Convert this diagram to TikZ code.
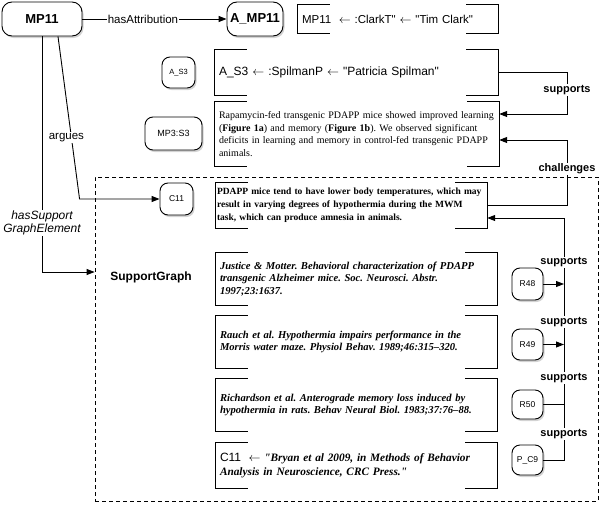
\documentclass[tikz,border=0pt]{standalone}
\usepackage{fontspec}
\setmainfont{Liberation Serif}[Ligatures=TeXOff]
\setsansfont{Liberation Sans}[Ligatures=TeXOff]
\usetikzlibrary{arrows.meta,shadows}
\frenchspacing
\newcommand{\qq}{\symbol{34}}
\newcommand{\from}{\ensuremath{\leftarrow}}

\tikzset{
  tag/.style={draw, line width=0.9pt, rounded corners=8pt, fill=white,
    drop shadow={shadow xshift=1.5pt, shadow yshift=-2pt, opacity=0.35},
    inner sep=0pt, font=\sffamily\fontsize{8.5}{10}\selectfont},
  quote/.style={inner xsep=4pt, inner ysep=0pt, align=left,
    font=\fontsize{10}{12.7}\selectfont},
  bracket/.style={line width=1.1pt},
  link/.style={-{Triangle[length=8pt,width=6pt]}, line width=0.9pt},
  lbl/.style={fill=white, inner sep=1pt, font=\sffamily\fontsize{11.5}{13.5}\selectfont},
  rel/.style={fill=white, inner sep=1pt, font=\sffamily\bfseries\fontsize{11}{13}\selectfont},
}

\begin{document}
\begin{tikzpicture}[x=1pt,y=-1pt]
  \useasboundingbox (0,0) rectangle (600,506);
  \coordinate (lane) at (567,0);
  \coordinate (refs) at (564,0);

  % support graph
  \node[draw, dash pattern=on 4pt off 3pt, line width=0.8pt,
    minimum width=503pt, minimum height=324pt] (sg) at (346.5,339) {};
  \node[font=\sffamily\bfseries\fontsize{12}{14}\selectfont] (sglabel) at (151,277) {SupportGraph};

  % resources
  \node[tag, minimum width=80pt, minimum height=34pt, rounded corners=10pt,
    font=\sffamily\bfseries\fontsize{13}{15}\selectfont] (mp11) at (42,19) {MP11};
  \node[tag, minimum width=56pt, minimum height=34pt, rounded corners=10pt,
    font=\sffamily\bfseries\fontsize{13}{15}\selectfont] (amp11) at (255,19) {A\_MP11};
  \node[tag, minimum width=33pt, minimum height=31pt,
    font=\sffamily\fontsize{7.5}{9}\selectfont] (as3) at (178.5,72.5) {A\_S3};
  \node[tag, minimum width=57pt, minimum height=33pt,
    font=\sffamily\fontsize{9}{11}\selectfont] (mp3s3) at (173.5,133.5) {MP3:S3};
  \node[tag, minimum width=33pt, minimum height=32pt] (c11) at (176.5,199) {C11};
  \node[tag, minimum width=31pt, minimum height=32pt] (r48) at (527.5,284) {R48};
  \node[tag, minimum width=31pt, minimum height=31pt] (r49) at (527.5,344.5) {R49};
  \node[tag, minimum width=31pt, minimum height=29pt] (r50) at (527.5,404.5) {R50};
  \node[tag, minimum width=31pt, minimum height=30pt] (pc9) at (527.5,460) {P\_C9};

  % quoted texts
  \node[quote, text width=192pt, minimum height=28pt,
    font=\sffamily\fontsize{11.5}{13}\selectfont] (attmp) at (398,19)
    {MP11 \ \from{} :ClarkT\qq{} \from{} \qq{}Tim Clark\qq};
  \node[quote, text width=275pt, minimum height=45pt,
    font=\sffamily\fontsize{12}{14}\selectfont] (atts3) at (356.5,72.5)
    {A\_S3 \from{} :SpilmanP \from{} \qq{}Patricia Spilman\qq};
  \node[quote, text width=276pt, minimum height=64pt] (stmt) at (357,134)
    {Rapamycin-fed transgenic PDAPP mice showed improved learning\\
     (\textbf{Figure 1a}) and memory (\textbf{Figure 1b}). We observed significant\\
     deficits in learning and memory in control-fed transgenic PDAPP\\
     animals.};
  \node[quote, inner xsep=1pt, text width=269pt, minimum height=45pt,
    font=\bfseries\fontsize{9.5}{13}\selectfont] (claim) at (351.5,205.5)
    {PDAPP mice tend to have lower body temperatures, which may\\
     result in varying degrees of hypothermia during the MWM\\
     task, which can produce amnesia in animals.};
  \node[quote, text width=273pt, minimum height=52pt,
    font=\bfseries\itshape\fontsize{10.6}{12.7}\selectfont] (ref48) at (356.5,279)
    {Justice \& Motter. Behavioral characterization of PDAPP\\
     transgenic Alzheimer mice. Soc. Neurosci. Abstr.\\
     1997;23:1637.};
  \node[quote, text width=273pt, minimum height=52pt,
    font=\bfseries\itshape\fontsize{10.6}{12.7}\selectfont] (ref49) at (356.5,342)
    {Rauch et al. Hypothermia impairs performance in the\\
     Morris water maze. Physiol Behav. 1989;46:315–320.};
  \node[quote, text width=273pt, minimum height=52pt,
    font=\bfseries\itshape\fontsize{10.6}{12.7}\selectfont] (ref50) at (356.5,405)
    {Richardson et al. Anterograde memory loss induced by\\
     hypothermia in rats. Behav Neural Biol. 1983;37:76–88.};
  \node[quote, text width=273pt, minimum height=45pt,
    font=\bfseries\itshape\fontsize{11.3}{13.3}\selectfont] (refc9) at (356.5,465.5)
    {{\sffamily\mdseries\upshape\fontsize{12}{13.3}\selectfont C11 \ \from} \qq{}Bryan et al 2009, in Methods of Behavior\\
     Analysis in Neuroscience, CRC Press.\qq};

  \foreach \n in {attmp,atts3,stmt,claim,ref48,ref49,ref50,refc9}
    \draw[bracket] ([xshift=32pt]\n.north west) -| (\n.south west) -- ++(32,0)
                   ([xshift=-32pt]\n.north east) -| (\n.south east) -- ++(-32,0);

  % connectors
  \draw[link] (mp11) -- node[lbl, pos=0.42] {hasAttribution} (amp11);
  \draw[link] ([xshift=16pt]mp11.south) -- node[lbl, pos=0.62, xshift=-5pt] {argues}
    ([xshift=-80pt]c11.west) -- (c11.west);
  \draw[link] (mp11.south) |- node[lbl, pos=0.396, align=center,
    font=\sffamily\itshape\fontsize{12}{13.5}\selectfont] {hasSupport\\GraphElement}
    ([yshift=5pt]sg.west |- sglabel);
  \draw[link] (atts3.east) -- (atts3.east -| lane)
    |- node[rel, pos=0.21] {supports} ([yshift=20pt]stmt.east);
  \draw[link] (claim.east) -- (claim.east -| lane)
    |- node[rel, pos=0.28] {challenges} ([yshift=-6pt]stmt.east);
  \draw[link] (pc9.east) -- (pc9.east -| refs)
    -- node[rel, pos=0.108] {supports} node[rel, pos=0.338] {supports}
       node[rel, pos=0.571] {supports} node[rel, pos=0.817] {supports}
    ([yshift=-12.5pt]claim.east -| refs) -- ([yshift=-12.5pt]claim.east);
  \draw[link] (r48) -- (r48 -| refs);
  \draw[link] (r49) -- (r49 -| refs);
  \draw[line width=0.9pt] (r50) -- (r50 -| refs);
\end{tikzpicture}
\end{document}
